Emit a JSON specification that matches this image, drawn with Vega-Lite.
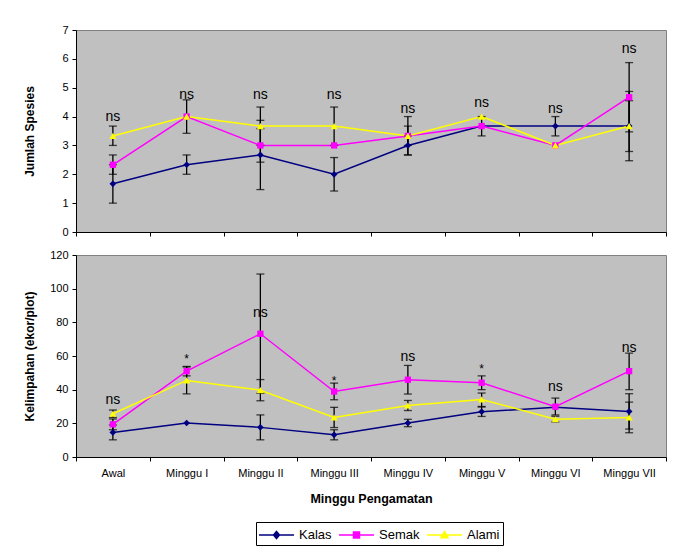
{
  "$schema": "https://vega.github.io/schema/vega-lite/v6.json",
  "padding": {"left": 22, "top": 23, "right": 5, "bottom": 0},
  "spacing": 10,
  "config": {
    "font": "Liberation Sans",
    "view": {"fill": "#C0C0C0", "stroke": "#808080", "strokeWidth": 1},
    "axis": {
      "grid": false,
      "domainColor": "black",
      "tickColor": "black",
      "labelColor": "black",
      "titleColor": "black",
      "labelFont": "Liberation Sans",
      "titleFont": "Liberation Sans",
      "titleFontWeight": "bold",
      "labelFontSize": 11,
      "titleFontSize": 12,
      "tickSize": 4
    }
  },
  "datasets": {
    "spesies": [
      {"week": "Awal", "series": "Kalas", "value": 1.67, "lo": 1.0, "hi": 2.33},
      {"week": "Awal", "series": "Semak", "value": 2.33, "lo": 2.0, "hi": 2.67},
      {"week": "Awal", "series": "Alami", "value": 3.33, "lo": 3.0, "hi": 3.67},
      {"week": "Minggu I", "series": "Kalas", "value": 2.33, "lo": 2.0, "hi": 2.67},
      {"week": "Minggu I", "series": "Semak", "value": 4.0, "lo": 3.42, "hi": 4.58},
      {"week": "Minggu I", "series": "Alami", "value": 4.0, "lo": null, "hi": null},
      {"week": "Minggu II", "series": "Kalas", "value": 2.67, "lo": 1.47, "hi": 3.87},
      {"week": "Minggu II", "series": "Semak", "value": 3.0, "lo": 2.42, "hi": 3.58},
      {"week": "Minggu II", "series": "Alami", "value": 3.67, "lo": 3.0, "hi": 4.33},
      {"week": "Minggu III", "series": "Kalas", "value": 2.0, "lo": 1.42, "hi": 2.58},
      {"week": "Minggu III", "series": "Semak", "value": 3.0, "lo": null, "hi": null},
      {"week": "Minggu III", "series": "Alami", "value": 3.67, "lo": 3.0, "hi": 4.33},
      {"week": "Minggu IV", "series": "Kalas", "value": 3.0, "lo": 2.67, "hi": 3.33},
      {"week": "Minggu IV", "series": "Semak", "value": 3.33, "lo": 3.0, "hi": 3.67},
      {"week": "Minggu IV", "series": "Alami", "value": 3.33, "lo": 2.67, "hi": 4.0},
      {"week": "Minggu V", "series": "Kalas", "value": 3.67, "lo": 3.33, "hi": 4.0},
      {"week": "Minggu V", "series": "Semak", "value": 3.67, "lo": null, "hi": null},
      {"week": "Minggu V", "series": "Alami", "value": 4.0, "lo": null, "hi": null},
      {"week": "Minggu VI", "series": "Kalas", "value": 3.67, "lo": 3.33, "hi": 4.0},
      {"week": "Minggu VI", "series": "Semak", "value": 3.0, "lo": null, "hi": null},
      {"week": "Minggu VI", "series": "Alami", "value": 3.0, "lo": null, "hi": null},
      {"week": "Minggu VII", "series": "Kalas", "value": 3.67, "lo": 2.79, "hi": 4.55},
      {"week": "Minggu VII", "series": "Semak", "value": 4.67, "lo": 3.47, "hi": 5.87},
      {"week": "Minggu VII", "series": "Alami", "value": 3.67, "lo": 2.47, "hi": 4.87}
    ],
    "kelimpahan": [
      {"week": "Awal", "series": "Kalas", "value": 14.6, "lo": 10.2, "hi": 19.0},
      {"week": "Awal", "series": "Semak", "value": 19.4, "lo": 16.2, "hi": 22.6},
      {"week": "Awal", "series": "Alami", "value": 25.7, "lo": 23.5, "hi": 27.9},
      {"week": "Minggu I", "series": "Kalas", "value": 20.2, "lo": null, "hi": null},
      {"week": "Minggu I", "series": "Semak", "value": 51.0, "lo": 48.2, "hi": 53.8},
      {"week": "Minggu I", "series": "Alami", "value": 45.5, "lo": 37.5, "hi": 53.5},
      {"week": "Minggu II", "series": "Kalas", "value": 17.6, "lo": 10.2, "hi": 25.0},
      {"week": "Minggu II", "series": "Semak", "value": 73.2, "lo": 37.8, "hi": 108.7},
      {"week": "Minggu II", "series": "Alami", "value": 39.7, "lo": 33.4, "hi": 46.0},
      {"week": "Minggu III", "series": "Kalas", "value": 13.2, "lo": 10.2, "hi": 16.2},
      {"week": "Minggu III", "series": "Semak", "value": 38.9, "lo": 34.0, "hi": 43.9},
      {"week": "Minggu III", "series": "Alami", "value": 23.5, "lo": 17.5, "hi": 29.5},
      {"week": "Minggu IV", "series": "Kalas", "value": 20.2, "lo": 18.0, "hi": 22.4},
      {"week": "Minggu IV", "series": "Semak", "value": 45.9, "lo": 37.4, "hi": 54.4},
      {"week": "Minggu IV", "series": "Alami", "value": 30.6, "lo": 27.6, "hi": 33.6},
      {"week": "Minggu V", "series": "Kalas", "value": 26.9, "lo": 24.1, "hi": 29.7},
      {"week": "Minggu V", "series": "Semak", "value": 44.1, "lo": 40.0, "hi": 48.2},
      {"week": "Minggu V", "series": "Alami", "value": 34.2, "lo": 30.0, "hi": 38.0},
      {"week": "Minggu VI", "series": "Kalas", "value": 29.5, "lo": null, "hi": null},
      {"week": "Minggu VI", "series": "Semak", "value": 29.9, "lo": 25.0, "hi": 35.0},
      {"week": "Minggu VI", "series": "Alami", "value": 22.5, "lo": 20.8, "hi": 24.2},
      {"week": "Minggu VII", "series": "Kalas", "value": 27.1, "lo": 16.6, "hi": 37.6},
      {"week": "Minggu VII", "series": "Semak", "value": 51.0, "lo": 40.0, "hi": 61.7},
      {"week": "Minggu VII", "series": "Alami", "value": 23.5, "lo": 14.4, "hi": 32.6}
    ],
    "sig1": [
      {"week": "Awal", "label": "ns", "y": 3.95},
      {"week": "Minggu I", "label": "ns", "y": 4.73},
      {"week": "Minggu II", "label": "ns", "y": 4.73},
      {"week": "Minggu III", "label": "ns", "y": 4.73},
      {"week": "Minggu IV", "label": "ns", "y": 4.24},
      {"week": "Minggu V", "label": "ns", "y": 4.42},
      {"week": "Minggu VI", "label": "ns", "y": 4.24},
      {"week": "Minggu VII", "label": "ns", "y": 6.3}
    ],
    "sig2": [
      {"week": "Awal", "label": "ns", "y": 33},
      {"week": "Minggu I", "label": "*", "y": 60},
      {"week": "Minggu II", "label": "ns", "y": 85},
      {"week": "Minggu III", "label": "*", "y": 47},
      {"week": "Minggu IV", "label": "ns", "y": 58.7},
      {"week": "Minggu V", "label": "*", "y": 53.8},
      {"week": "Minggu VI", "label": "ns", "y": 40.7},
      {"week": "Minggu VII", "label": "ns", "y": 64.3}
    ]
  },
  "resolve": {"scale": {"color": "shared"}},
  "vconcat": [
    {
      "width": 590,
      "height": 202,
      "encoding": {
        "x": {
          "field": "week", "type": "nominal",
          "sort": ["Awal", "Minggu I", "Minggu II", "Minggu III", "Minggu IV", "Minggu V", "Minggu VI", "Minggu VII"],
          "scale": {"type": "band", "paddingInner": 0, "paddingOuter": 0},
          "axis": {"labels": false, "title": null, "tickBand": "extent"}
        }
      },
      "layer": [
        {
          "data": {"name": "spesies"},
          "mark": {"type": "line", "strokeWidth": 1.5},
          "encoding": {
            "y": {"field": "value", "type": "quantitative", "scale": {"domain": [0, 7], "nice": false},
              "axis": {"values": [0, 1, 2, 3, 4, 5, 6, 7], "title": "Jumlah Spesies", "minExtent": 30, "maxExtent": 30, "titlePadding": 10, "labelPadding": 4}},
            "color": {"field": "series", "type": "nominal", "scale": {"domain": ["Kalas", "Semak", "Alami"], "range": ["#000080", "#FF00FF", "#FFFF00"]}}
          }
        },
        {
          "data": {"name": "spesies"},
          "transform": [{"filter": "datum.lo != null"}],
          "mark": {"type": "rule", "color": "black", "strokeWidth": 1.3},
          "encoding": {"y": {"field": "lo", "type": "quantitative", "axis": {"values": [0, 1, 2, 3, 4, 5, 6, 7], "title": "Jumlah Spesies", "minExtent": 30, "maxExtent": 30, "titlePadding": 10, "labelPadding": 4}}, "y2": {"field": "hi"}}
        },
        {
          "data": {"name": "spesies"},
          "transform": [{"filter": "datum.lo != null"}],
          "mark": {"type": "tick", "color": "black", "size": 8, "thickness": 1.3, "orient": "horizontal"},
          "encoding": {"y": {"field": "lo", "type": "quantitative", "axis": {"values": [0, 1, 2, 3, 4, 5, 6, 7], "title": "Jumlah Spesies", "minExtent": 30, "maxExtent": 30, "titlePadding": 10, "labelPadding": 4}}}
        },
        {
          "data": {"name": "spesies"},
          "transform": [{"filter": "datum.lo != null"}],
          "mark": {"type": "tick", "color": "black", "size": 8, "thickness": 1.3, "orient": "horizontal"},
          "encoding": {"y": {"field": "hi", "type": "quantitative", "axis": {"values": [0, 1, 2, 3, 4, 5, 6, 7], "title": "Jumlah Spesies", "minExtent": 30, "maxExtent": 30, "titlePadding": 10, "labelPadding": 4}}}
        },
        {
          "data": {"name": "spesies"},
          "transform": [{"filter": "datum.series === 'Kalas'"}],
          "mark": {"type": "point", "shape": "diamond", "filled": true, "opacity": 1, "size": 45},
          "encoding": {
            "y": {"field": "value", "type": "quantitative", "axis": {"values": [0, 1, 2, 3, 4, 5, 6, 7], "title": "Jumlah Spesies", "minExtent": 30, "maxExtent": 30, "titlePadding": 10, "labelPadding": 4}},
            "color": {"field": "series", "type": "nominal"}
          }
        },
        {
          "data": {"name": "spesies"},
          "transform": [{"filter": "datum.series === 'Semak'"}],
          "mark": {"type": "point", "shape": "square", "filled": true, "opacity": 1, "size": 40},
          "encoding": {
            "y": {"field": "value", "type": "quantitative", "axis": {"values": [0, 1, 2, 3, 4, 5, 6, 7], "title": "Jumlah Spesies", "minExtent": 30, "maxExtent": 30, "titlePadding": 10, "labelPadding": 4}},
            "color": {"field": "series", "type": "nominal"}
          }
        },
        {
          "data": {"name": "spesies"},
          "transform": [{"filter": "datum.series === 'Alami'"}],
          "mark": {"type": "point", "shape": "triangle-up", "filled": true, "opacity": 1, "size": 50},
          "encoding": {
            "y": {"field": "value", "type": "quantitative", "axis": {"values": [0, 1, 2, 3, 4, 5, 6, 7], "title": "Jumlah Spesies", "minExtent": 30, "maxExtent": 30, "titlePadding": 10, "labelPadding": 4}},
            "color": {"field": "series", "type": "nominal"}
          }
        },
        {
          "data": {"name": "sig1"},
          "mark": {"type": "text", "fontSize": 14, "color": "black", "baseline": "middle", "dy": -1},
          "encoding": {"y": {"field": "y", "type": "quantitative", "axis": {"values": [0, 1, 2, 3, 4, 5, 6, 7], "title": "Jumlah Spesies", "minExtent": 30, "maxExtent": 30, "titlePadding": 10, "labelPadding": 4}}, "text": {"field": "label"}}
        }
      ]
    },
    {
      "width": 590,
      "height": 202,
      "encoding": {
        "x": {
          "field": "week", "type": "nominal",
          "sort": ["Awal", "Minggu I", "Minggu II", "Minggu III", "Minggu IV", "Minggu V", "Minggu VI", "Minggu VII"],
          "scale": {"type": "band", "paddingInner": 0, "paddingOuter": 0},
          "axis": {"title": "Minggu Pengamatan", "tickBand": "extent", "labelAngle": 0, "labelFontSize": 11, "labelPadding": 6, "titlePadding": 14, "titleFontSize": 12.5}
        }
      },
      "layer": [
        {
          "data": {"name": "kelimpahan"},
          "mark": {"type": "line", "strokeWidth": 1.5},
          "encoding": {
            "y": {"field": "value", "type": "quantitative", "scale": {"domain": [0, 120], "nice": false},
              "axis": {"values": [0, 20, 40, 60, 80, 100, 120], "title": "Kelimpahan (ekor/plot)", "minExtent": 30, "maxExtent": 30, "titlePadding": 10, "labelPadding": 4}},
            "color": {
              "field": "series", "type": "nominal",
              "legend": {
                "orient": "none", "legendX": 180, "legendY": 492, "direction": "horizontal", "title": null,
                "strokeColor": "black", "fillColor": "white", "padding": 3,
                "labelFont": "Liberation Sans", "labelFontSize": 13, "labelColor": "black",
                "symbolSize": 324, "labelOffset": 20, "columnPadding": 4,
                "encode": {
                  "symbols": {
                    "update": {
                      "shape": {"signal": "datum.value === 'Kalas' ? 'M-1.944,0H1.944M0,-0.39L0.33,0L0,0.39L-0.33,0Z' : datum.value === 'Semak' ? 'M-1.944,0H1.944M-0.33,-0.33H0.33V0.33H-0.33Z' : 'M-1.944,0H1.944M0,-0.4L0.4,0.3H-0.4Z'"},
                      "x": {"value": 17.5},
                      "stroke": {"signal": "scale('color', datum.value)"},
                      "fill": {"signal": "scale('color', datum.value)"},
                      "strokeWidth": {"value": 1.5},
                      "opacity": {"value": 1}
                    }
                  }
                }
              }
            }
          }
        },
        {
          "data": {"name": "kelimpahan"},
          "transform": [{"filter": "datum.lo != null"}],
          "mark": {"type": "rule", "color": "black", "strokeWidth": 1.3},
          "encoding": {"y": {"field": "lo", "type": "quantitative", "axis": {"values": [0, 20, 40, 60, 80, 100, 120], "title": "Kelimpahan (ekor/plot)", "minExtent": 30, "maxExtent": 30, "titlePadding": 10, "labelPadding": 4}}, "y2": {"field": "hi"}}
        },
        {
          "data": {"name": "kelimpahan"},
          "transform": [{"filter": "datum.lo != null"}],
          "mark": {"type": "tick", "color": "black", "size": 8, "thickness": 1.3, "orient": "horizontal"},
          "encoding": {"y": {"field": "lo", "type": "quantitative", "axis": {"values": [0, 20, 40, 60, 80, 100, 120], "title": "Kelimpahan (ekor/plot)", "minExtent": 30, "maxExtent": 30, "titlePadding": 10, "labelPadding": 4}}}
        },
        {
          "data": {"name": "kelimpahan"},
          "transform": [{"filter": "datum.lo != null"}],
          "mark": {"type": "tick", "color": "black", "size": 8, "thickness": 1.3, "orient": "horizontal"},
          "encoding": {"y": {"field": "hi", "type": "quantitative", "axis": {"values": [0, 20, 40, 60, 80, 100, 120], "title": "Kelimpahan (ekor/plot)", "minExtent": 30, "maxExtent": 30, "titlePadding": 10, "labelPadding": 4}}}
        },
        {
          "data": {"name": "kelimpahan"},
          "transform": [{"filter": "datum.series === 'Kalas'"}],
          "mark": {"type": "point", "shape": "diamond", "filled": true, "opacity": 1, "size": 45},
          "encoding": {
            "y": {"field": "value", "type": "quantitative", "axis": {"values": [0, 20, 40, 60, 80, 100, 120], "title": "Kelimpahan (ekor/plot)", "minExtent": 30, "maxExtent": 30, "titlePadding": 10, "labelPadding": 4}},
            "color": {"field": "series", "type": "nominal"}
          }
        },
        {
          "data": {"name": "kelimpahan"},
          "transform": [{"filter": "datum.series === 'Semak'"}],
          "mark": {"type": "point", "shape": "square", "filled": true, "opacity": 1, "size": 40},
          "encoding": {
            "y": {"field": "value", "type": "quantitative", "axis": {"values": [0, 20, 40, 60, 80, 100, 120], "title": "Kelimpahan (ekor/plot)", "minExtent": 30, "maxExtent": 30, "titlePadding": 10, "labelPadding": 4}},
            "color": {"field": "series", "type": "nominal"}
          }
        },
        {
          "data": {"name": "kelimpahan"},
          "transform": [{"filter": "datum.series === 'Alami'"}],
          "mark": {"type": "point", "shape": "triangle-up", "filled": true, "opacity": 1, "size": 50},
          "encoding": {
            "y": {"field": "value", "type": "quantitative", "axis": {"values": [0, 20, 40, 60, 80, 100, 120], "title": "Kelimpahan (ekor/plot)", "minExtent": 30, "maxExtent": 30, "titlePadding": 10, "labelPadding": 4}},
            "color": {"field": "series", "type": "nominal"}
          }
        },
        {
          "data": {"name": "sig2"},
          "transform": [{"filter": "datum.label === 'ns'"}],
          "mark": {"type": "text", "fontSize": 14, "color": "black", "baseline": "middle", "dy": -1},
          "encoding": {"y": {"field": "y", "type": "quantitative", "axis": {"values": [0, 20, 40, 60, 80, 100, 120], "title": "Kelimpahan (ekor/plot)", "minExtent": 30, "maxExtent": 30, "titlePadding": 10, "labelPadding": 4}}, "text": {"field": "label"}}
        },
        {
          "data": {"name": "sig2"},
          "transform": [{"filter": "datum.label === '*'"}],
          "mark": {"type": "text", "fontSize": 12, "color": "black", "baseline": "middle", "dy": 3},
          "encoding": {"y": {"field": "y", "type": "quantitative", "axis": {"values": [0, 20, 40, 60, 80, 100, 120], "title": "Kelimpahan (ekor/plot)", "minExtent": 30, "maxExtent": 30, "titlePadding": 10, "labelPadding": 4}}, "text": {"field": "label"}}
        }
      ]
    }
  ]
}
